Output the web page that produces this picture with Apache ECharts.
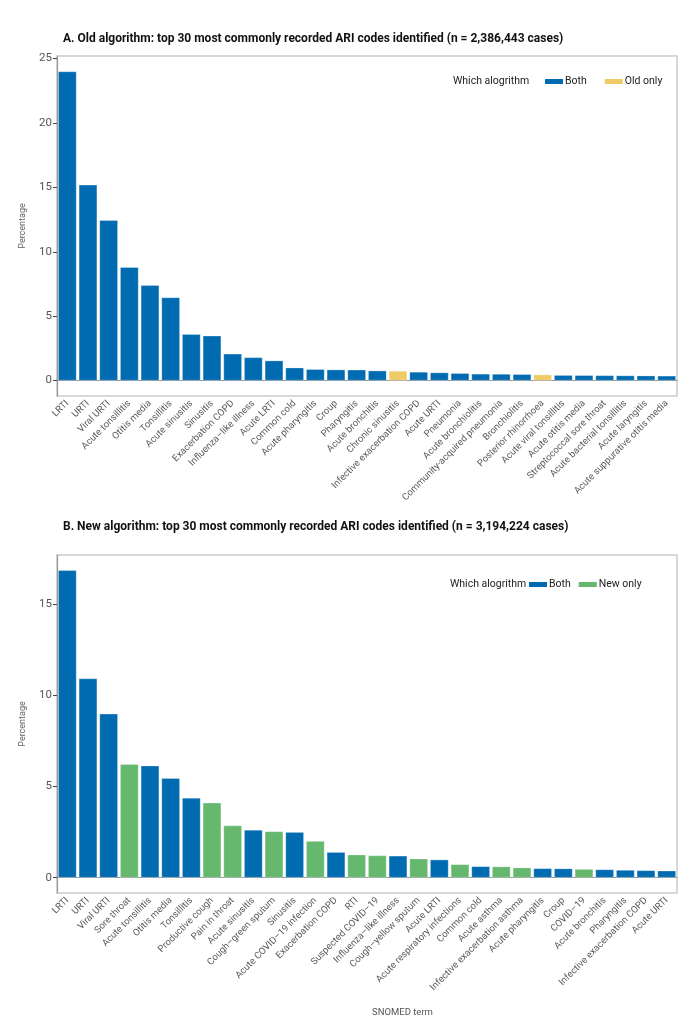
<!DOCTYPE html>
<html>
<head>
<meta charset="utf-8">
<script src="https://cdn.jsdelivr.net/npm/echarts@6/dist/echarts.min.js"></script>
<style>
  html, body { margin: 0; padding: 0; background: #fff; }
  #chart { width: 700px; height: 1035px; }
</style>
</head>
<body>
<div id="chart"></div>
<script>
// panel A - old algorithm
var catsA = ['LRTI', 'URTI', 'Viral URTI', 'Acute tonsillitis', 'Otitis media', 'Tonsillitis',
  'Acute sinusitis', 'Sinusitis', 'Exacerbation COPD', 'Influenza–like illness', 'Acute LRTI',
  'Common cold', 'Acute pharyngitis', 'Croup', 'Pharyngitis', 'Acute bronchitis', 'Chronic sinusitis',
  'Infective exacerbation COPD', 'Acute URTI', 'Pneumonia', 'Acute bronchiolitis',
  'Community-acquired pneumonia', 'Bronchiolitis', 'Posterior rhinorrhoea', 'Acute viral tonsillitis',
  'Acute otitis media', 'Streptococcal sore throat', 'Acute bacterial tonsillitis', 'Acute laryngitis',
  'Acute suppurative otitis media']
var valsA = [24.0, 15.2, 12.45, 8.8, 7.4, 6.45, 3.6, 3.48, 2.08, 1.8, 1.55, 1.0, 0.88, 0.85, 0.84,
  0.77, 0.75, 0.67, 0.62, 0.57, 0.52, 0.51, 0.49, 0.46, 0.42, 0.41, 0.4, 0.39, 0.38, 0.37]
var groupA = ['Both', 'Both', 'Both', 'Both', 'Both', 'Both', 'Both', 'Both', 'Both', 'Both', 'Both',
  'Both', 'Both', 'Both', 'Both', 'Both', 'Old only', 'Both', 'Both', 'Both', 'Both', 'Both', 'Both',
  'Old only', 'Both', 'Both', 'Both', 'Both', 'Both', 'Both']

// panel B - new algorithm
var catsB = ['LRTI', 'URTI', 'Viral URTI', 'Sore throat', 'Acute tonsillitis', 'Otitis media',
  'Tonsillitis', 'Productive cough', 'Pain in throat', 'Acute sinusitis', 'Cough–green sputum',
  'Sinusitis', 'Acute COVID–19 infection', 'Exacerbation COPD', 'RTI', 'Suspected COVID–19',
  'Influenza–like illness', 'Cough–yellow sputum', 'Acute LRTI', 'Acute respiratory infections',
  'Common cold', 'Acute asthma', 'Infective exacerbation asthma', 'Acute pharyngitis', 'Croup',
  'COVID–19', 'Acute bronchitis', 'Pharyngitis', 'Infective exacerbation COPD', 'Acute URTI']
var valsB = [16.88, 10.94, 9.0, 6.23, 6.15, 5.46, 4.38, 4.11, 2.86, 2.62, 2.54, 2.5, 2.01, 1.4,
  1.26, 1.22, 1.2, 1.04, 0.99, 0.73, 0.62, 0.61, 0.55, 0.51, 0.5, 0.47, 0.45, 0.42, 0.4, 0.38]
var groupB = ['Both', 'Both', 'Both', 'New only', 'Both', 'Both', 'Both', 'New only', 'New only',
  'Both', 'New only', 'Both', 'New only', 'Both', 'New only', 'New only', 'Both', 'New only', 'Both',
  'New only', 'Both', 'New only', 'New only', 'Both', 'Both', 'New only', 'Both', 'Both', 'Both', 'Both']

var ticksA = [0, 5, 10, 15, 20, 25]
var ticksB = [0, 5, 10, 15]

var colors = { 'Both': '#006bb0', 'Old only': '#efcb68', 'New only': '#65b86e' }
var font = 'Roboto'
var grey = '#555'

function pick(vals, groups, g) {
  return vals.map(function (v, i) { return groups[i] === g ? v : '-' })
}

function xAxisFor(cats, gi) {
  return {
    type: 'category', gridIndex: gi, data: cats,
    axisLine: { lineStyle: { color: '#999', width: 1.2 } },
    axisTick: { alignWithLabel: true, length: 4, lineStyle: { color: '#444' } },
    axisLabel: { interval: 0, rotate: 45, fontSize: 9.5, color: '#5a5a5a', fontFamily: font, margin: 6 }
  }
}

function yAxisFor(min, max, ticks, gi) {
  return {
    type: 'value', gridIndex: gi, min: min, max: max,
    name: 'Percentage', nameLocation: 'middle', nameGap: 30,
    nameTextStyle: { fontSize: 9, color: '#666', fontFamily: font },
    axisLine: { show: true, lineStyle: { color: '#999', width: 1.2 } },
    axisTick: { show: true, length: 4, customValues: ticks, lineStyle: { color: '#444' } },
    axisLabel: { fontSize: 11.5, color: grey, fontFamily: font, margin: 5, customValues: ticks },
    splitLine: { show: false }
  }
}

function barSeries(name, vals, groups, gi) {
  return {
    name: name, type: 'bar', xAxisIndex: gi, yAxisIndex: gi,
    data: pick(vals, groups, name),
    barGap: '-100%', barCategoryGap: '11%',
    itemStyle: { color: colors[name], borderColor: 'rgba(255,255,255,0.45)', borderWidth: 0.6 },
    silent: true
  }
}

var chart = echarts.init(document.getElementById('chart'))
var option = {
  animation: false,
  backgroundColor: '#fff',
  title: [
    { text: 'A. Old algorithm: top 30 most commonly recorded ARI codes identified (n = 2,386,443 cases)',
      left: 58, top: 28, textStyle: { fontSize: 12, fontWeight: 'bold', color: '#111', fontFamily: font } },
    { text: 'B. New algorithm: top 30 most commonly recorded ARI codes identified (n = 3,194,224 cases)',
      left: 58, top: 516, textStyle: { fontSize: 12, fontWeight: 'bold', color: '#111', fontFamily: font } },
    { text: 'Which alogrithm', left: 448, top: 71,
      textStyle: { fontSize: 10.5, fontWeight: 'normal', color: '#222', fontFamily: font } },
    { text: 'Which alogrithm', left: 445, top: 574,
      textStyle: { fontSize: 10.5, fontWeight: 'normal', color: '#222', fontFamily: font } },
    { text: 'SNOMED term', left: 367, top: 1003,
      textStyle: { fontSize: 9.5, fontWeight: 'normal', color: grey, fontFamily: font } }
  ],
  legend: [
    { data: ['Both', 'Old only'], left: 545, top: 76, padding: 0, itemGap: 18,
      itemWidth: 18, itemHeight: 5, icon: 'rect', itemStyle: { borderWidth: 0 },
      textStyle: { fontSize: 10.5, color: '#222', fontFamily: font, padding: [0, 0, 0, -3] } },
    { data: ['Both', 'New only'], left: 529, top: 579, padding: 0, itemGap: 8,
      itemWidth: 18, itemHeight: 5, icon: 'rect', itemStyle: { borderWidth: 0 },
      textStyle: { fontSize: 10.5, color: '#222', fontFamily: font, padding: [0, 0, 0, -3] } }
  ],
  grid: [
    { left: 57, right: 23, top: 56, height: 340, show: true, borderColor: '#cccccc', borderWidth: 1.5 },
    { left: 57, right: 23, top: 555, height: 338, show: true, borderColor: '#cccccc', borderWidth: 1.5 }
  ],
  xAxis: [xAxisFor(catsA, 0), xAxisFor(catsB, 1)],
  yAxis: [yAxisFor(-1.2, 25.2, ticksA, 0), yAxisFor(-0.844, 17.72, ticksB, 1)],
  series: [
    barSeries('Both', valsA, groupA, 0),
    barSeries('Old only', valsA, groupA, 0),
    barSeries('Both', valsB, groupB, 1),
    barSeries('New only', valsB, groupB, 1)
  ]
}
chart.setOption(option)
</script>
</body>
</html>
